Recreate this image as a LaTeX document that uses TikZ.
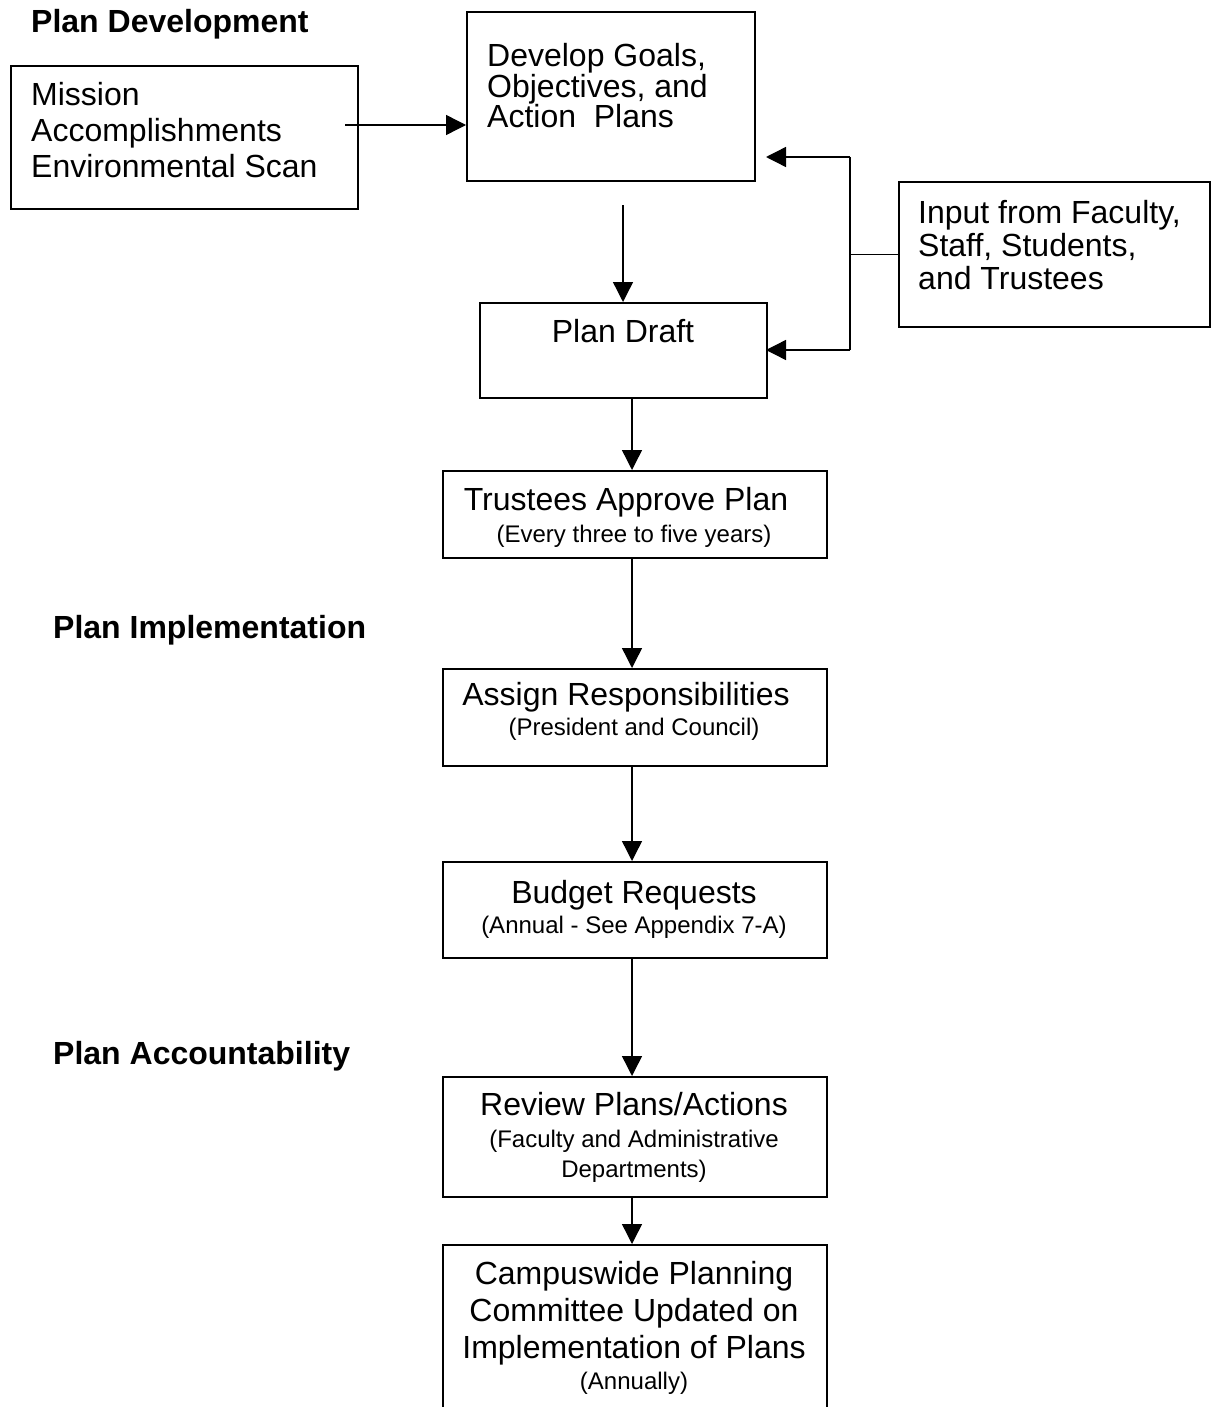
\documentclass[tikz,border=0pt]{standalone}
\usepackage{fontspec}
\setmainfont{Liberation Sans}
\usetikzlibrary{arrows.meta}
\newcommand\bigtxt{\fontsize{32}{36}\selectfont}
\newcommand\smalltxt{\fontsize{24}{28}\selectfont}
\begin{document}
\begin{tikzpicture}[x=1pt,y=-1pt,
  box/.style={draw, line width=1.6pt, inner sep=0pt, anchor=north west},
  arr/.style={line width=1.4pt, -{Triangle[length=20pt,width=20pt]}},
  ln/.style={line width=1.4pt},
  tl/.style={anchor=base west, inner sep=0pt, font=\bigtxt},
  tc/.style={anchor=base, inner sep=0pt, font=\bigtxt},
  sc/.style={anchor=base, inner sep=0pt, font=\smalltxt},
  hd/.style={anchor=base west, inner sep=0pt, font=\bigtxt\bfseries}]
\useasboundingbox (0,0) rectangle (1210,1407);
\fill[white] (0,0) rectangle (1210,1407);

% section headings
\node[hd] (hdev) at (31,33) {Plan Development};
\node[hd] (himp) at (53,638) {Plan Implementation};
\node[hd] (hacc) at (53,1064) {Plan Accountability};

% boxes
\node[box, minimum width=347pt, minimum height=143pt] (mission) at (10,65) {};
\node[box, minimum width=288pt, minimum height=169pt] (goals) at (466,11) {};
\node[box, minimum width=311pt, minimum height=145pt] (input) at (898,181) {};
\node[box, minimum width=287pt, minimum height=95pt] (draft) at (479,302) {};
\node[box, minimum width=384pt, minimum height=87pt] (trust) at (442,470) {};
\node[box, minimum width=384pt, minimum height=97pt] (assign) at (442,668) {};
\node[box, minimum width=384pt, minimum height=96pt] (budget) at (442,861) {};
\node[box, minimum width=384pt, minimum height=120pt] (review) at (442,1076) {};
\node[box, minimum width=384pt, minimum height=185pt] (campus) at (442,1244) {};

% texts
\node[tl] (m1) at (31,106) {Mission};
\node[tl] (m2) at (31,142) {Accomplishments};
\node[tl] (m3) at (31,178) {Environmental Scan};
\node[tl] (g1) at (487,67) {Develop Goals,};
\node[tl] (g2) at (487,98) {Objectives, and};
\node[tl] (g3) at (487,128) {Action\ \ Plans};
\node[tl] (i1) at (918,223) {Input from Faculty,};
\node[tl] (i2) at (918,256) {Staff, Students,};
\node[tl] (i3) at (918,289) {and Trustees};
\node[tc] (d1) at (623,342) {Plan Draft};
\node[tc] (t1) at (626,510) {Trustees Approve Plan};
\node[sc] (t2) at (634,542) {(Every three to five years)};
\node[tc] (a1) at (626,705) {Assign Responsibilities};
\node[sc] (a2) at (634,735) {(President and Council)};
\node[tc] (b1) at (634,903) {Budget Requests};
\node[sc] (b2) at (634,933) {(Annual - See Appendix 7-A)};
\node[tc] (r1) at (634,1115) {Review Plans/Actions};
\node[sc] (r2) at (634,1147) {(Faculty and Administrative};
\node[sc] (r3) at (634,1177) {Departments)};
\node[tc] (c1) at (634,1284) {Campuswide Planning};
\node[tc] (c2) at (634,1321) {Committee Updated on};
\node[tc] (c3) at (634,1358) {Implementation of Plans};
\node[sc] (c4) at (634,1389) {(Annually)};

% connectors
\coordinate (ms) at (345,125);
\draw[arr] (ms) -- (goals.west |- ms);

\coordinate (gs) at (623,205);
\draw[arr] (gs) -- (draft.north -| gs);

\coordinate (bx) at (850,253);
\coordinate (gin) at (766,157);
\coordinate (din) at (766,350);
\draw[ln] (input.west) -- (input.west -| bx);
\draw[ln] (bx |- gin) -- (bx |- din);
\draw[arr] (bx |- gin) -- (gin);
\draw[arr] (bx |- din) -- (din);

\coordinate (cx) at (632,0);
\draw[arr] (draft.south -| cx) -- (trust.north -| cx);
\draw[arr] (trust.south -| cx) -- (assign.north -| cx);
\draw[arr] (assign.south -| cx) -- (budget.north -| cx);
\draw[arr] (budget.south -| cx) -- (review.north -| cx);
\draw[arr] (review.south -| cx) -- (campus.north -| cx);
\end{tikzpicture}
\end{document}
